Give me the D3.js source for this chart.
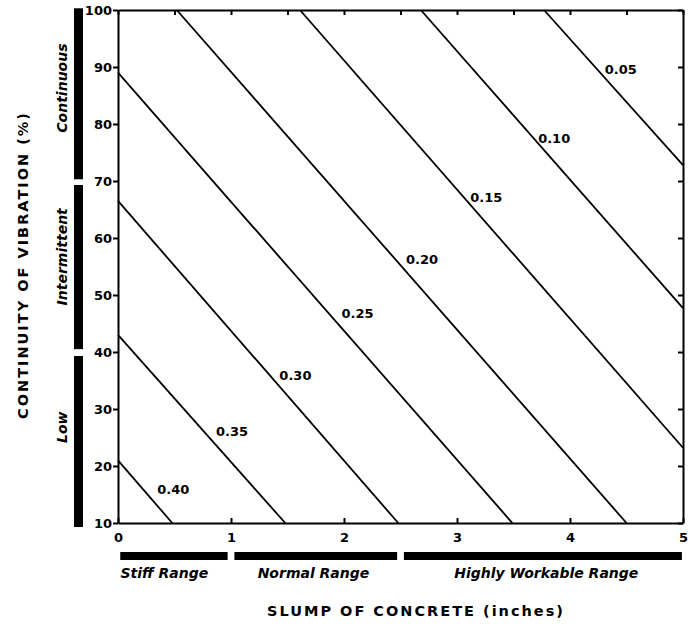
<!DOCTYPE html>
<html>
<head>
<meta charset="utf-8">
<script src="https://cdn.jsdelivr.net/npm/d3@7"></script>
<style>
  body { margin: 0; background: #fff; }
  svg { display: block; }
  .axis text { font-family: "DejaVu Sans", sans-serif; font-weight: bold; font-size: 13px; fill: #000; }
  .axis path, .axis line { stroke: #000; stroke-width: 2; }
  .ratio { font-family: "DejaVu Sans", sans-serif; font-weight: bold; font-size: 13px; }
  .range { font-family: "DejaVu Sans", sans-serif; font-weight: bold; font-style: italic; font-size: 14px; }
  .title { font-family: "DejaVu Sans", sans-serif; font-weight: bold; font-size: 14.5px; letter-spacing: 2px; }
</style>
</head>
<body>
<div id="chart"></div>
<script>
// water/cement type ratio lines
var ratios = ["0.40", "0.35", "0.30", "0.25", "0.20", "0.15", "0.10", "0.05"];
var startX = [0, 0, 0, 0, 0.52, 1.61, 2.68, 3.77];
var startY = [21, 43, 66.5, 89, 100, 100, 100, 100];
var endX = [0.48, 1.48, 2.48, 3.49, 4.5, 5, 5, 5];
var endY = [10, 10, 10, 10, 10, 23.2, 47.7, 72.8];
var labelX = [0.49, 1.01, 1.57, 2.12, 2.69, 3.26, 3.86, 4.45];
var labelY = [15.8, 26.0, 35.8, 46.7, 56.3, 67.2, 77.5, 89.5];

// vibration bands (left side)
var vibNames = ["Continuous", "Intermittent", "Low"];
var vibTop = [100.3, 69.3, 39.3];
var vibBottom = [70.3, 40.5, 9.3];
var vibLabelY = [86.3, 56.7, 26.8];

// slump bands (under the x axis)
var slumpNames = ["Stiff Range", "Normal Range", "Highly Workable Range"];
var slumpFrom = [0.02, 1.03, 2.53];
var slumpTo = [0.97, 2.47, 4.99];
var slumpLabelX = [0.41, 1.73, 3.79];

var yTicks = [10, 20, 30, 40, 50, 60, 70, 80, 90, 100];
var xTicks = [0, 1, 2, 3, 4, 5];
var topTicks = [0, 0.5, 1, 1.5, 2, 2.5, 3, 3.5, 4, 4.5, 5];

var width = 688, height = 629;

var x = d3.scaleLinear().domain([0, 5]).range([118, 683]);
var y = d3.scaleLinear().domain([10, 100]).range([523, 10]);

var svg = d3.select("#chart").append("svg")
    .attr("width", width)
    .attr("height", height);

// axes
svg.append("g").attr("class", "axis")
    .attr("transform", "translate(0," + y(10) + ")")
    .call(d3.axisBottom(x).tickValues(xTicks).tickSize(-5).tickSizeOuter(0).tickPadding(10).tickFormat(d3.format("d")));

svg.append("g").attr("class", "axis")
    .attr("transform", "translate(0," + y(100) + ")")
    .call(d3.axisTop(x).tickValues(topTicks).tickSize(-5).tickSizeOuter(0).tickFormat(""));

svg.append("g").attr("class", "axis")
    .attr("transform", "translate(" + x(0) + ",0)")
    .call(d3.axisLeft(y).tickValues(yTicks).tickSize(5).tickSizeOuter(0).tickPadding(1).tickFormat(d3.format("d")));

svg.append("g").attr("class", "axis")
    .attr("transform", "translate(" + x(5) + ",0)")
    .call(d3.axisRight(y).tickValues(yTicks).tickSize(-5).tickSizeOuter(0).tickFormat(""));

// ratio lines
var idx = d3.range(ratios.length);
svg.selectAll(".rline")
    .data(idx)
    .enter().append("line")
    .attr("class", "rline")
    .attr("x1", function(i) { return x(startX[i]); })
    .attr("y1", function(i) { return y(startY[i]); })
    .attr("x2", function(i) { return x(endX[i]); })
    .attr("y2", function(i) { return y(endY[i]); })
    .attr("stroke", "#000")
    .attr("stroke-width", 1.8);

svg.selectAll(".ratio")
    .data(idx)
    .enter().append("text")
    .attr("class", "ratio")
    .attr("x", function(i) { return x(labelX[i]); })
    .attr("y", function(i) { return y(labelY[i]); })
    .attr("text-anchor", "middle")
    .attr("dy", "0.35em")
    .text(function(i) { return ratios[i]; });

// vibration bars + labels
var vi = d3.range(vibNames.length);
svg.selectAll(".vbar")
    .data(vi)
    .enter().append("rect")
    .attr("class", "vbar")
    .attr("x", 74)
    .attr("width", 9)
    .attr("y", function(i) { return y(vibTop[i]); })
    .attr("height", function(i) { return y(vibBottom[i]) - y(vibTop[i]); })
    .attr("fill", "#000");

svg.selectAll(".vlab")
    .data(vi)
    .enter().append("text")
    .attr("class", "range")
    .attr("text-anchor", "middle")
    .attr("transform", function(i) { return "translate(67," + y(vibLabelY[i]) + ") rotate(-90)"; })
    .text(function(i) { return vibNames[i]; });

// slump bars + labels
var si = d3.range(slumpNames.length);
svg.selectAll(".sbar")
    .data(si)
    .enter().append("rect")
    .attr("class", "sbar")
    .attr("x", function(i) { return x(slumpFrom[i]); })
    .attr("width", function(i) { return x(slumpTo[i]) - x(slumpFrom[i]); })
    .attr("y", 552)
    .attr("height", 8)
    .attr("fill", "#000");

svg.selectAll(".slab")
    .data(si)
    .enter().append("text")
    .attr("class", "range")
    .attr("x", function(i) { return x(slumpLabelX[i]); })
    .attr("y", 578)
    .attr("text-anchor", "middle")
    .text(function(i) { return slumpNames[i]; });

// axis titles
svg.append("text")
    .attr("class", "title")
    .attr("text-anchor", "middle")
    .attr("transform", "translate(28,265) rotate(-90)")
    .text("CONTINUITY OF VIBRATION (%)");

svg.append("text")
    .attr("class", "title")
    .attr("text-anchor", "middle")
    .attr("x", 416)
    .attr("y", 616)
    .text("SLUMP OF CONCRETE (inches)");
</script>
</body>
</html>
